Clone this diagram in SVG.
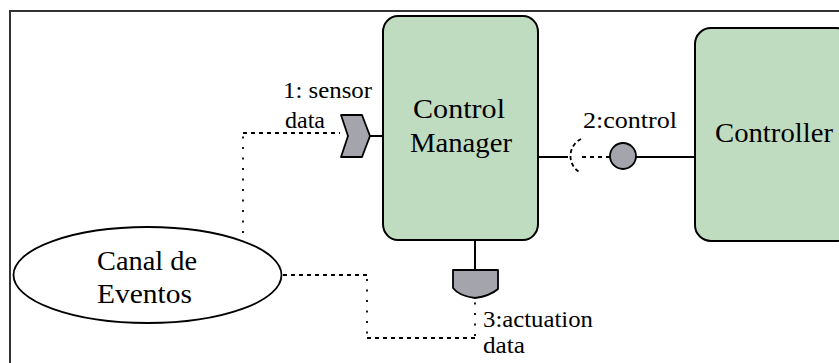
<svg xmlns="http://www.w3.org/2000/svg" width="839" height="363" viewBox="0 0 839 363">
  <style>
    text { font-family: 'Liberation Serif', 'Times New Roman', serif; fill: #000; }
    .node-label { font-size: 28px; }
    .port-label { font-size: 24px; }
    .box { fill: #c0dcc0; stroke: #000; stroke-width: 2; }
    .port { fill: #a4a4ac; stroke: #000; stroke-width: 1.8; stroke-linejoin: round; }
    .wire { fill: none; stroke: #000; stroke-width: 2; }
    .dash-h { fill: none; stroke: #000; stroke-width: 1.8; stroke-dasharray: 4 4; }
    .dot-v { fill: none; stroke: #000; stroke-width: 1.8; stroke-dasharray: 2 8.5; }
  </style>

  <rect width="839" height="363" fill="#fff"/>
  <!-- outer frame: top and left edges only -->
  <path d="M10,363 V11 H839" fill="none" stroke="#333" stroke-width="2"/>

  <g id="connectors">
    <!-- event channel to sensor port -->
    <line class="dot-v" x1="243" y1="233" x2="243" y2="135"/>
    <line class="dash-h" x1="243" y1="133" x2="340" y2="133"/>
    <!-- sensor port stem -->
    <line class="wire" x1="370" y1="136" x2="383" y2="136"/>
    <!-- event channel to actuation port -->
    <line class="dash-h" x1="283" y1="275" x2="367" y2="275"/>
    <line class="dot-v" x1="367" y1="279" x2="367" y2="336"/>
    <line class="dash-h" x1="367" y1="338" x2="475" y2="338"/>
    <line class="dot-v" x1="475" y1="336" x2="475" y2="299"/>
    <!-- actuation port stem -->
    <line class="wire" x1="475" y1="240" x2="475" y2="270"/>
    <!-- control interface: required socket and provided lollipop -->
    <line class="wire" x1="538" y1="157" x2="568" y2="157"/>
    <path class="dash-h" d="M581,139 A19,19 0 0 0 581,173" style="stroke-dasharray:4 3"/>
    <line class="dash-h" x1="582" y1="157" x2="610" y2="157"/>
    <line class="wire" x1="636" y1="157" x2="695" y2="157"/>
  </g>

  <g id="control-manager">
    <rect class="box" x="383" y="16" width="155" height="224" rx="15" ry="16"/>
    <text class="node-label" x="413" y="118" textLength="92" lengthAdjust="spacingAndGlyphs">Control</text>
    <text class="node-label" x="410" y="152" textLength="102" lengthAdjust="spacingAndGlyphs">Manager</text>
  </g>

  <g id="controller">
    <rect class="box" x="695" y="28" width="157" height="213" rx="16" ry="16"/>
    <text class="node-label" x="715" y="142" textLength="118" lengthAdjust="spacingAndGlyphs">Controller</text>
  </g>

  <g id="canal-de-eventos">
    <ellipse cx="147.5" cy="275" rx="134" ry="48" fill="#fff" stroke="#000" stroke-width="1.8"/>
    <text class="node-label" x="97" y="270" textLength="100" lengthAdjust="spacingAndGlyphs">Canal de</text>
    <text class="node-label" x="97" y="303" textLength="95" lengthAdjust="spacingAndGlyphs">Eventos</text>
  </g>

  <g id="sensor-port">
    <path class="port" d="M341,115 H362 L370,136 L362,157 H341 L348,136 Z"/>
    <text class="port-label" x="283" y="98" textLength="89" lengthAdjust="spacingAndGlyphs">1: sensor</text>
    <text class="port-label" x="285" y="128" textLength="40" lengthAdjust="spacingAndGlyphs">data</text>
  </g>

  <g id="actuation-port">
    <path class="port" d="M453,270 H498 V289 Q490,296 475,298 Q459,296 453,288 Z"/>
    <text class="port-label" x="483" y="327" textLength="110" lengthAdjust="spacingAndGlyphs">3:actuation</text>
    <text class="port-label" x="483" y="353" textLength="42" lengthAdjust="spacingAndGlyphs">data</text>
  </g>

  <g id="control-port">
    <circle class="port" cx="623" cy="156" r="13"/>
    <text class="port-label" x="583" y="128" textLength="94" lengthAdjust="spacingAndGlyphs">2:control</text>
  </g>
</svg>
